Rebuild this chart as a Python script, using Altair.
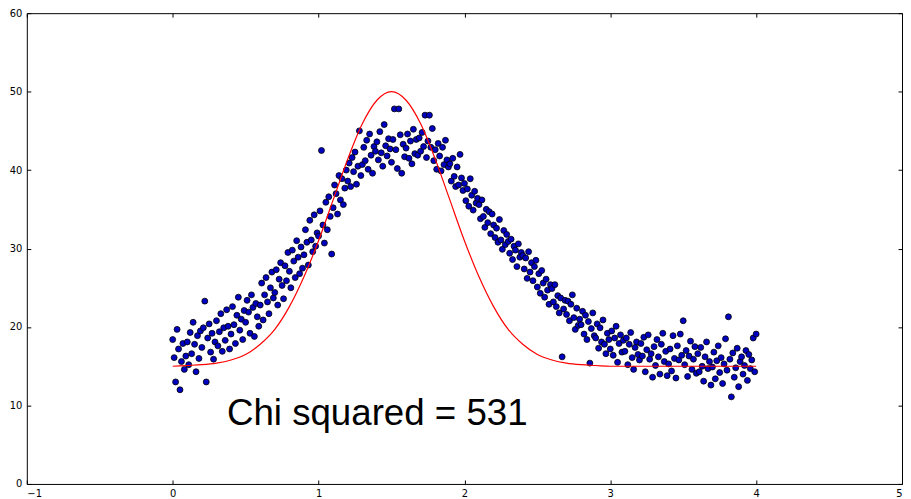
import altair as alt
import pandas as pd

# ---- data ----
x_start, x_step = 0.0, 0.01
scatter_y = [
    18.4, 16.1, 13.0, 19.7, 17.2, 12.0, 15.6, 17.9, 14.6, 16.3,
    18.1, 15.2, 19.3, 16.6, 20.6, 17.8, 14.3, 18.9, 16.0, 19.5,
    17.4, 19.9, 23.3, 13.0, 18.6, 20.4, 16.8, 19.2, 15.9, 18.1,
    20.8, 17.6, 19.4, 21.7, 16.9, 19.9, 18.3, 22.2, 20.1, 17.2,
    19.1, 22.6, 20.3, 17.9, 21.5, 23.8, 19.6, 21.0, 18.4, 22.1,
    20.6, 23.4, 21.9, 19.2, 24.1, 22.5, 18.8, 23.0, 21.3, 20.1,
    22.8, 25.6, 20.9, 24.1, 26.3, 23.2, 21.7, 25.0, 27.0, 23.7,
    24.4, 27.3, 22.8, 26.1, 28.2, 25.3, 23.6, 27.8, 25.9, 29.5,
    27.1, 25.0, 29.8, 28.4, 26.3, 31.0, 28.9, 26.8, 30.2, 27.5,
    29.2, 32.4, 30.8, 27.9, 33.6, 31.1, 29.6, 34.3, 30.3, 32.0,
    31.6, 34.8, 42.5, 33.0, 30.7, 35.9, 32.4, 36.6, 34.1, 29.3,
    35.2, 38.1, 37.0, 34.4, 39.3, 36.2, 38.9, 35.6, 37.7, 40.0,
    38.6, 40.9, 37.9, 41.6, 39.8, 42.3, 38.2, 40.5, 45.0, 39.3,
    40.7, 42.9, 41.2, 43.8, 40.1, 44.6, 41.9, 39.6, 43.0, 42.4,
    43.6, 41.3, 44.9, 42.2, 40.5, 45.8, 43.1, 41.8, 44.0, 42.7,
    41.0, 43.9, 47.8, 42.6, 40.2, 47.8, 44.5, 39.6, 43.3, 41.7,
    42.8, 44.6, 41.5, 43.7, 40.8, 45.2, 42.1, 43.9, 41.9, 44.1,
    42.4, 44.8, 43.0, 47.0, 41.6, 43.7, 47.0, 42.9, 45.3, 41.2,
    42.6, 40.1, 43.4, 41.8, 39.9, 42.9, 40.7, 43.8, 41.3, 40.4,
    40.8, 38.6, 41.5, 39.2, 37.9, 40.4, 38.1, 42.0, 39.0, 37.4,
    38.3, 36.1, 37.6, 35.4, 38.9, 36.8, 34.9, 37.3, 35.8, 36.4,
    35.6, 33.8, 36.2, 34.1, 32.7, 35.0, 33.3, 34.7, 31.9, 34.4,
    33.0, 31.4, 32.6, 30.8, 33.7, 31.1, 29.9, 32.3, 30.5, 31.8,
    30.9, 29.4, 31.2, 28.6, 30.3, 29.8, 27.7, 30.6, 28.9, 29.5,
    29.1, 27.4, 28.8, 26.2, 29.6, 27.0, 28.2, 25.9, 27.7, 28.5,
    25.1, 26.8, 24.3, 27.2, 25.6, 23.8, 26.1, 24.7, 22.9, 25.4,
    24.9, 23.2, 25.4, 22.6, 24.0, 21.8, 23.7, 16.2, 22.3, 23.4,
    21.6, 23.3, 20.8, 22.9, 24.1, 21.2, 19.7, 22.4, 20.2, 21.0,
    20.3, 22.0, 19.1, 21.5, 18.4, 20.7, 15.4, 19.8, 21.8, 18.9,
    18.6, 20.4, 17.3, 19.9, 18.1, 20.9, 17.8, 16.6, 19.2, 18.4,
    17.2, 19.5, 16.4, 18.6, 20.1, 15.5, 17.9, 19.0, 16.8, 18.3,
    16.9, 18.6, 15.2, 17.8, 19.3, 16.1, 14.6, 17.4, 18.1, 16.5,
    15.8, 17.9, 16.3, 18.7, 14.3, 17.1, 19.0, 15.9, 16.6, 13.6,
    17.5, 15.1, 18.4, 16.2, 14.0, 17.8, 19.2, 15.6, 16.9, 13.8,
    15.3, 17.2, 14.4, 18.9, 16.0, 13.5, 17.6, 15.8, 19.1, 16.4,
    20.8, 15.2, 17.0, 13.7, 16.3, 18.2, 14.6, 15.9, 17.5, 14.1,
    16.6, 14.3, 17.4, 15.0, 13.1, 16.2, 18.1, 14.7, 15.6, 12.6,
    14.9, 16.8, 13.4, 15.7, 17.6, 14.2, 16.1, 12.8, 15.3, 18.5,
    14.5, 21.3, 15.9, 11.1, 16.7, 13.6, 14.8, 17.3, 12.4, 15.6,
    16.2, 14.0, 15.1, 17.0, 13.2, 16.5, 14.7, 15.8, 18.6, 14.3,
    19.1,
]
scatter_x = [round(x_start + i * x_step, 2) for i in range(len(scatter_y))]

curve_x = [round(i * 0.1, 1) for i in range(41)]
curve_y = [
    15.0, 15.1, 15.2, 15.4, 15.8, 16.5, 17.8, 19.7, 22.6, 26.4,
    31.0, 36.2, 41.4, 45.9, 48.9, 50.0, 48.9, 45.9, 41.4, 36.2,
    31.0, 26.4, 22.6, 19.7, 17.8, 16.5, 15.8, 15.4, 15.2, 15.1,
    15.0, 15.0, 15.0, 15.0, 15.0, 15.0, 15.0, 15.0, 15.0, 15.0,
    15.0,
]

annot_x = [0.372]
annot_y = [7.55]
annot_text = ["Chi squared = 531"]

x_ticks = [-1, 0, 1, 2, 3, 4, 5]
y_ticks = [0, 10, 20, 30, 40, 50, 60]

W, H = 883, 475

pts = pd.DataFrame({"x": scatter_x, "y": scatter_y})
crv = pd.DataFrame({"x": curve_x, "y": curve_y})
ann = pd.DataFrame({"x": annot_x, "y": annot_y, "t": annot_text})

xs = alt.Scale(domain=[-1, 5], nice=False, zero=False)
ys = alt.Scale(domain=[0, 60], nice=False, zero=False)

lbl_expr = "datum.value < 0 ? '\u2212' + (-datum.value) : '' + datum.value"

points = alt.Chart(pts).mark_circle(
    size=36, opacity=1, color="#0000c0", stroke="black", strokeWidth=0.8
).encode(
    x=alt.X("x:Q", scale=xs, title=None,
            axis=alt.Axis(orient="bottom", values=x_ticks, ticks=False, labelPadding=5,
                          labelExpr=lbl_expr)),
    y=alt.Y("y:Q", scale=ys, title=None,
            axis=alt.Axis(orient="left", values=y_ticks, ticks=False, labelPadding=5)),
)

curve = alt.Chart(crv).mark_line(color="#ff0000", strokeWidth=1.2, interpolate="monotone").encode(
    x=alt.X("x:Q", scale=xs, title=None,
            axis=alt.Axis(orient="top", offset=-H, values=x_ticks, labels=False, tickSize=4)),
    y=alt.Y("y:Q", scale=ys, title=None,
            axis=alt.Axis(orient="right", offset=-W, values=y_ticks, labels=False, tickSize=4)),
)

text = alt.Chart(ann).mark_text(
    align="left", baseline="alphabetic", font="Liberation Sans", fontSize=37, color="black"
).encode(
    x=alt.X("x:Q", scale=xs, title=None,
            axis=alt.Axis(orient="bottom", offset=-H, values=x_ticks, labels=False, tickSize=4)),
    y=alt.Y("y:Q", scale=ys, title=None,
            axis=alt.Axis(orient="left", offset=-W, values=y_ticks, labels=False, tickSize=4)),
    text="t:N",
)

chart = alt.layer(points, curve, text).resolve_axis(
    x="independent", y="independent"
).properties(
    width=W, height=H,
    autosize=alt.AutoSizeParams(type="none"),
    padding={"left": 19, "top": 3, "right": 1, "bottom": 16},
).configure_view(
    stroke="black", strokeWidth=1
).configure_axis(
    domain=False, grid=False, tickColor="black", labelColor="black",
    labelFont="DejaVu Sans", labelFontSize=10,
)

chart.save("out.html", embed_options={"renderer": "svg", "actions": False})
